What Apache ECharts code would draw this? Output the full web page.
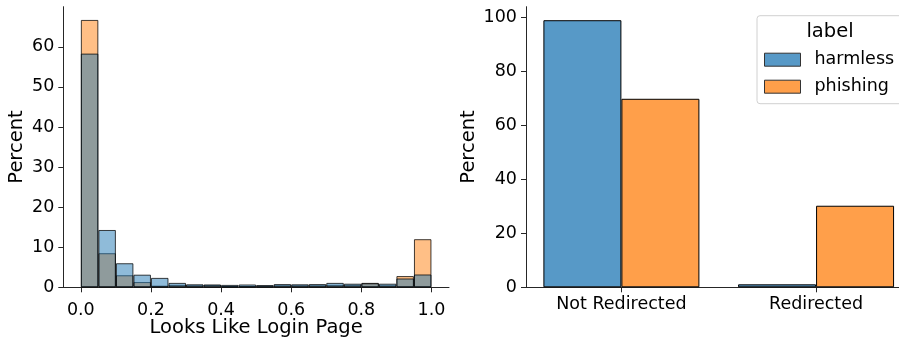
<!DOCTYPE html>
<html>
<head>
<meta charset="utf-8">
<script src="https://cdn.jsdelivr.net/npm/echarts@6/dist/echarts.min.js"></script>
<style>
  html, body { margin: 0; padding: 0; background: #fff; }
  #chart { width: 899px; height: 338px; }
</style>
</head>
<body>
<div id="chart"></div>
<script>
// left: histogram of "Looks Like Login Page" score, percent per 0.05 bin
var binCenters = [0.025, 0.075, 0.125, 0.175, 0.225, 0.275, 0.325, 0.375, 0.425, 0.475,
  0.525, 0.575, 0.625, 0.675, 0.725, 0.775, 0.825, 0.875, 0.925, 0.975];
var harmlessHist = [58.3, 14.3, 6.0, 3.15, 2.35, 1.1, 0.75, 0.7, 0.6, 0.7,
  0.55, 0.8, 0.75, 0.8, 1.1, 0.9, 1.0, 0.9, 2.2, 3.2];
var phishingHist = [66.7, 8.5, 3.0, 1.3, 0.4, 0.6, 0.5, 0.6, 0.3, 0.3,
  0.4, 0.5, 0.5, 0.5, 0.6, 0.6, 1.1, 0.5, 2.8, 12.0];
var histTicks = [0, 0.2, 0.4, 0.6, 0.8, 1.0];

// right: redirect status
var redirectCats = ['Not Redirected', 'Redirected'];
var harmlessRedirect = [98.9, 1.1];
var phishingRedirect = [69.8, 30.2];

var FONT = 'DejaVu Sans';
var FS = 17.5;   // tick labels
var NFS = 19.5;  // axis titles
var axisCol = '#262626';

const myChart = echarts.init(document.getElementById('chart'));

function pairs (xs, ys) {
  return ys.map(function (v, i) { return [xs[i], v]; });
}

const option = {
  animation: false,
  textStyle: { fontFamily: FONT },
  grid: [
    { left: 63.3, top: 6.7, width: 385.7, bottom: 50.7, outerBoundsMode: 'none', containLabel: false },
    { left: 526, top: 6.7, right: 0, bottom: 50.7, outerBoundsMode: 'none', containLabel: false }
  ],
  xAxis: [{
    gridIndex: 0,
    type: 'value',
    min: -0.05,
    max: 1.05,
    name: 'Looks Like Login Page',
    nameLocation: 'middle',
    nameGap: 30.5,
    nameMoveOverlap: false,
    nameTextStyle: { fontSize: NFS, color: '#000', fontFamily: FONT },
    splitLine: { show: false },
    axisLine: { show: true, onZero: false, lineStyle: { color: axisCol, width: 1 } },
    axisTick: { show: true, length: 5, customValues: histTicks, lineStyle: { color: axisCol } },
    axisLabel: {
      customValues: histTicks, margin: 14, fontSize: FS, color: '#000', fontFamily: FONT,
      formatter: function (v) { return v.toFixed(1); }
    }
  }, {
    gridIndex: 1,
    type: 'value',
    min: -0.49,
    max: 1.426,
    splitLine: { show: false },
    axisLine: { show: true, onZero: false, lineStyle: { color: axisCol, width: 1 } },
    axisTick: { show: true, length: 5, customValues: [0, 1], lineStyle: { color: axisCol } },
    axisLabel: {
      customValues: [0, 1], margin: 8, fontSize: FS, color: '#000', fontFamily: FONT,
      formatter: function (v) { return redirectCats[Math.round(v)]; }
    }
  }],
  yAxis: [{
    gridIndex: 0,
    type: 'value',
    min: 0,
    max: 70,
    name: 'Percent',
    nameLocation: 'middle',
    nameGap: 36,
    nameMoveOverlap: false,
    nameTextStyle: { fontSize: NFS, color: '#000', fontFamily: FONT },
    splitLine: { show: false },
    axisLine: { show: true, onZero: false, lineStyle: { color: axisCol, width: 1 } },
    axisTick: { show: true, length: 5, customValues: [0, 10, 20, 30, 40, 50, 60], lineStyle: { color: axisCol } },
    axisLabel: { customValues: [0, 10, 20, 30, 40, 50, 60], margin: 9, fontSize: FS, color: '#000', fontFamily: FONT }
  }, {
    gridIndex: 1,
    type: 'value',
    min: 0,
    max: 103.9,
    name: 'Percent',
    nameLocation: 'middle',
    nameGap: 47,
    nameMoveOverlap: false,
    nameTextStyle: { fontSize: NFS, color: '#000', fontFamily: FONT },
    splitLine: { show: false },
    axisLine: { show: true, onZero: false, lineStyle: { color: axisCol, width: 1 } },
    axisTick: { show: true, length: 5, customValues: [0, 20, 40, 60, 80, 100], lineStyle: { color: axisCol } },
    axisLabel: { customValues: [0, 20, 40, 60, 80, 100], margin: 9, fontSize: FS, color: '#000', fontFamily: FONT }
  }],
  legend: {
    orient: 'vertical',
    left: 757,
    top: 15.7,
    padding: [35, 30, 8, 7],
    itemWidth: 36,
    itemHeight: 13,
    itemGap: 9,
    borderColor: '#d0d0d0',
    borderWidth: 1,
    borderRadius: 3,
    backgroundColor: 'rgba(255,255,255,0.8)',
    selectedMode: false,
    textStyle: { fontSize: FS, color: '#000', fontFamily: FONT, padding: [0, 0, 0, 9] },
    data: [
      { name: 'harmless', icon: 'rect', itemStyle: { color: 'rgb(87,153,199)', borderColor: '#333', borderWidth: 1 } },
      { name: 'phishing', icon: 'rect', itemStyle: { color: 'rgb(255,159,74)', borderColor: '#333', borderWidth: 1 } }
    ]
  },
  graphic: [{
    type: 'text',
    z: 100,
    style: {
      text: 'label', x: 830, y: 31.5, align: 'center', verticalAlign: 'middle',
      fontSize: NFS, fontFamily: FONT, fill: '#000'
    }
  }],
  series: [{
    // phishing drawn first, harmless on top (gives the grey overlap)
    name: 'phishing',
    type: 'bar',
    xAxisIndex: 0,
    yAxisIndex: 0,
    data: pairs(binCenters, phishingHist),
    barWidth: 17.5,
    barGap: '-100%',
    itemStyle: { color: 'rgba(255,127,14,0.5)', borderColor: 'rgba(0,0,0,0.75)', borderWidth: 1 },
    emphasis: { disabled: true }
  }, {
    name: 'harmless',
    type: 'bar',
    xAxisIndex: 0,
    yAxisIndex: 0,
    data: pairs(binCenters, harmlessHist),
    barWidth: 17.5,
    barGap: '-100%',
    itemStyle: { color: 'rgba(31,119,180,0.5)', borderColor: 'rgba(0,0,0,0.75)', borderWidth: 1 },
    emphasis: { disabled: true }
  }, {
    name: 'harmless',
    type: 'bar',
    xAxisIndex: 1,
    yAxisIndex: 1,
    data: pairs([0, 1], harmlessRedirect),
    barWidth: 78,
    barGap: '0%',
    itemStyle: { color: 'rgb(87,153,199)', borderColor: '#000', borderWidth: 1 },
    emphasis: { disabled: true }
  }, {
    name: 'phishing',
    type: 'bar',
    xAxisIndex: 1,
    yAxisIndex: 1,
    data: pairs([0, 1], phishingRedirect),
    barWidth: 78,
    barGap: '0%',
    itemStyle: { color: 'rgb(255,159,74)', borderColor: '#000', borderWidth: 1 },
    emphasis: { disabled: true }
  }]
};

myChart.setOption(option);
window.addEventListener('resize', function () {
  myChart.resize();
});
</script>
</body>
</html>
